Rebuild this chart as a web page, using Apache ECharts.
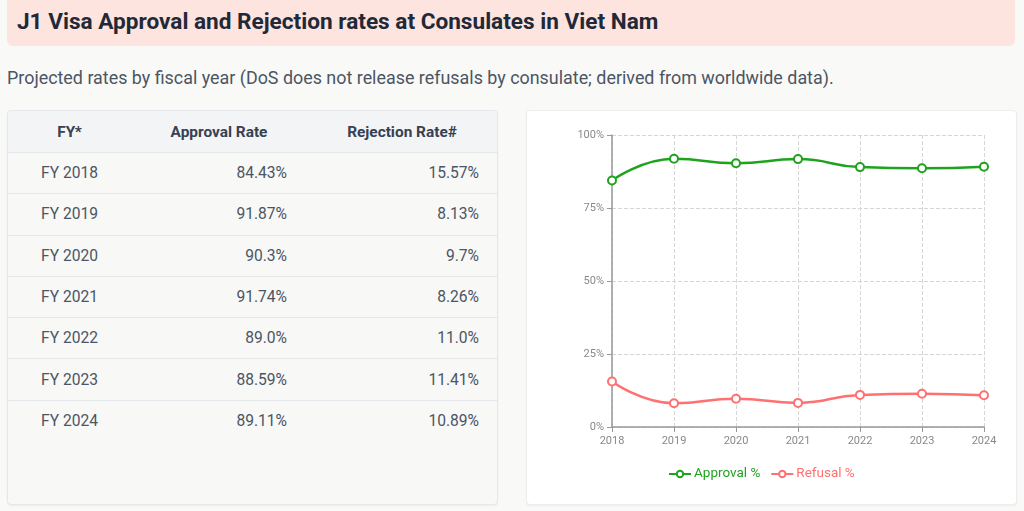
<!DOCTYPE html>
<html>
<head>
<meta charset="utf-8">
<script src="https://cdn.jsdelivr.net/npm/echarts@6/dist/echarts.min.js"></script>
<style>
  html, body { margin: 0; padding: 0; width: 1024px; height: 511px; overflow: hidden; background: #f9f9f8; font-family: Roboto, "Noto Sans", sans-serif; }
  #titlebar { position: absolute; left: 7px; top: -6px; width: 1008px; height: 52px; background: #fde4df; border-radius: 6px; }
  #titlebar h1 { position: absolute; left: 10px; top: 14px; margin: 0; font-size: 22.6px; line-height: 28px; font-weight: 700; color: #1f2937; white-space: nowrap; }
  #subtitle { position: absolute; left: 7px; top: 66px; font-size: 17.9px; line-height: 24px; color: #4b5563; white-space: nowrap; }
  #tablecard { position: absolute; left: 7px; top: 110px; width: 489px; height: 393px; background: #f8f8f7; border: 1px solid #e5e7eb; border-radius: 4px; overflow: hidden; box-shadow: 0 1px 2px rgba(0,0,0,0.05); }
  table { border-collapse: collapse; width: 489px; table-layout: fixed; font-size: 15.6px; color: #4b5563; }
  th { background: #f3f4f6; height: 41px; font-weight: 700; color: #374151; font-size: 15.4px; text-align: center; padding: 0; }
  td { height: 40.3px; border-top: 1px solid #e5e7eb; padding: 0; }
  td.c1 { text-align: center; }
  td.c2, td.c3 { text-align: right; padding-right: 18px; }
  #chartcard { position: absolute; left: 526px; top: 110px; width: 489px; height: 393px; background: #ffffff; border: 1px solid #eceeef; border-radius: 4px; box-shadow: 0 1px 2px rgba(0,0,0,0.05); }
  #chart { position: absolute; left: 0; top: 0; width: 489px; height: 393px; }
</style>
</head>
<body>
<div id="titlebar"><h1>J1 Visa Approval and Rejection rates at Consulates in Viet Nam</h1></div>
<div id="subtitle">Projected rates by fiscal year (DoS does not release refusals by consulate; derived from worldwide data).</div>
<div id="tablecard">
  <table id="tbl">
    <colgroup><col style="width:123px"><col style="width:176px"><col style="width:190px"></colgroup>
    <thead><tr id="hdr"></tr></thead>
    <tbody id="tbody"></tbody>
  </table>
</div>
<div id="chartcard"><div id="chart"></div></div>
<script>
const years = ['2018', '2019', '2020', '2021', '2022', '2023', '2024'];
const approvalText = ['84.43%', '91.87%', '90.3%', '91.74%', '89.0%', '88.59%', '89.11%'];
const rejectionText = ['15.57%', '8.13%', '9.7%', '8.26%', '11.0%', '11.41%', '10.89%'];
const approval = [84.43, 91.87, 90.3, 91.74, 89.0, 88.59, 89.11];
const refusal = [15.57, 8.13, 9.7, 8.26, 11.0, 11.41, 10.89];
const headers = ['FY*', 'Approval Rate', 'Rejection Rate#'];
const yTicks = [0, 25, 50, 75, 100];

// table
const hdr = document.getElementById('hdr');
headers.forEach(h => { const th = document.createElement('th'); th.textContent = h; hdr.appendChild(th); });
const tbody = document.getElementById('tbody');
years.forEach((y, i) => {
  const tr = document.createElement('tr');
  const a = document.createElement('td'); a.className = 'c1'; a.textContent = 'FY ' + y;
  const b = document.createElement('td'); b.className = 'c2'; b.textContent = approvalText[i];
  const c = document.createElement('td'); c.className = 'c3'; c.textContent = rejectionText[i];
  tr.appendChild(a); tr.appendChild(b); tr.appendChild(c);
  tbody.appendChild(tr);
});
document.querySelectorAll('td.c2').forEach(td => td.style.paddingRight = '20px');

const green = '#1fa31f';
const red = '#ff7070';
const chart = echarts.init(document.getElementById('chart'), null, { renderer: 'canvas' });
chart.setOption({
  animation: false,
  textStyle: { fontFamily: 'Roboto, sans-serif' },
  grid: { left: 85, right: 32, top: 24, bottom: 77 },
  legend: {
    top: 351, left: 136,
    itemWidth: 22, itemHeight: 8, itemGap: 10,
    textStyle: { fontSize: 13.5, padding: [0, 0, 0, -2] },
    data: [
      { name: 'Approval %', textStyle: { color: green } },
      { name: 'Refusal %', textStyle: { color: red } }
    ]
  },
  xAxis: {
    type: 'category', data: years, boundaryGap: false,
    axisLine: { lineStyle: { color: '#999', width: 1.5 } },
    axisTick: { show: true, alignWithLabel: true, lineStyle: { color: '#999' } },
    axisLabel: { color: '#888', fontSize: 11, margin: 9 },
    splitLine: { show: true, lineStyle: { type: 'dashed', color: '#d6d6d6' } }
  },
  yAxis: {
    type: 'value', min: yTicks[0], max: yTicks[yTicks.length - 1], interval: 25,
    axisLine: { show: true, lineStyle: { color: '#999', width: 1.5 } },
    axisTick: { show: true, lineStyle: { color: '#999' } },
    axisLabel: { color: '#888', fontSize: 11, margin: 8, formatter: v => v + '%' },
    splitLine: { show: true, lineStyle: { type: 'dashed', color: '#d6d6d6' } }
  },
  series: [
    { name: 'Approval %', type: 'line', data: approval, smooth: true, symbol: 'emptyCircle', symbolSize: 8,
      lineStyle: { color: green, width: 2.5 }, itemStyle: { color: green, borderWidth: 2 } },
    { name: 'Refusal %', type: 'line', data: refusal, smooth: true, symbol: 'emptyCircle', symbolSize: 8,
      lineStyle: { color: red, width: 2.5 }, itemStyle: { color: red, borderWidth: 2 } }
  ]
});
</script>
</body>
</html>
